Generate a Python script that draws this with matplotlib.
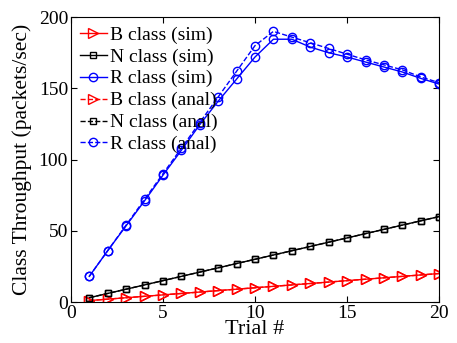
import matplotlib
matplotlib.use("Agg")
import matplotlib.pyplot as plt

trials = list(range(1, 21))
b_sim = [1, 2, 3, 4, 5, 6, 7, 8, 9, 10, 11, 12, 13, 14, 15, 16, 17, 18, 19, 20]
n_sim = [3, 6, 9, 12, 15, 18, 21, 24, 27, 30, 33, 36, 39, 42, 45, 48, 51, 54, 57, 60]
r_sim = [18, 36, 53.5, 71, 89, 106.5, 124.5, 141, 156.5, 172,
         184.5, 184.5, 179, 175, 172, 168.5, 165, 161.5, 157, 153]
b_anal = [1, 2, 3, 4, 5, 6, 7, 8, 9, 10, 11, 12, 13, 14, 15, 16, 17, 18, 19, 20]
n_anal = [3, 6, 9, 12, 15, 18, 21, 24, 27, 30, 33, 36, 39, 42, 45, 48, 51, 54, 57, 60]
r_anal = [18, 36, 54, 72, 90, 108, 126, 144, 162, 180,
          190, 186, 182, 178, 174, 170, 166.5, 163, 158, 154]

plt.rcParams["font.family"] = "Liberation Serif"

fig = plt.figure(figsize=(4.57, 3.43), dpi=100)
ax = fig.add_axes([0.155, 0.1195, 0.806, 0.8305])

kw = dict(markerfacecolor="none", linewidth=1.0, markeredgewidth=1.0)
ax.plot(trials, b_sim, "r-", marker=">", markersize=6.5, label="B class (sim)", **kw)
ax.plot(trials, n_sim, "k-", marker="s", markersize=4.5, label="N class (sim)", **kw)
ax.plot(trials, r_sim, "b-", marker="o", markersize=6, label="R class (sim)", **kw)
ax.plot(trials, b_anal, "r--", marker=">", markersize=6.5, label="B class (anal)", **kw)
ax.plot(trials, n_anal, "k--", marker="s", markersize=4.5, label="N class (anal)", **kw)
ax.plot(trials, r_anal, "b--", marker="o", markersize=6, label="R class (anal)", **kw)

ax.set_xlim(0, 20)
ax.set_ylim(0, 200)
ax.set_xticks([0, 5, 10, 15, 20])
ax.set_yticks([0, 50, 100, 150, 200])
ax.tick_params(direction="in", top=True, right=True, labelsize=14, length=4, pad=2)
ax.set_xlabel("Trial #", fontsize=16, labelpad=-1)
ax.set_ylabel("Class Throughput (packets/sec)", fontsize=15.5, labelpad=5)

ax.legend(loc="upper left", frameon=False, fontsize=14, handlelength=1.4,
          handletextpad=0.15, labelspacing=0.22, borderaxespad=0.15,
          borderpad=0.3)

fig.savefig("out.png", dpi=100)
